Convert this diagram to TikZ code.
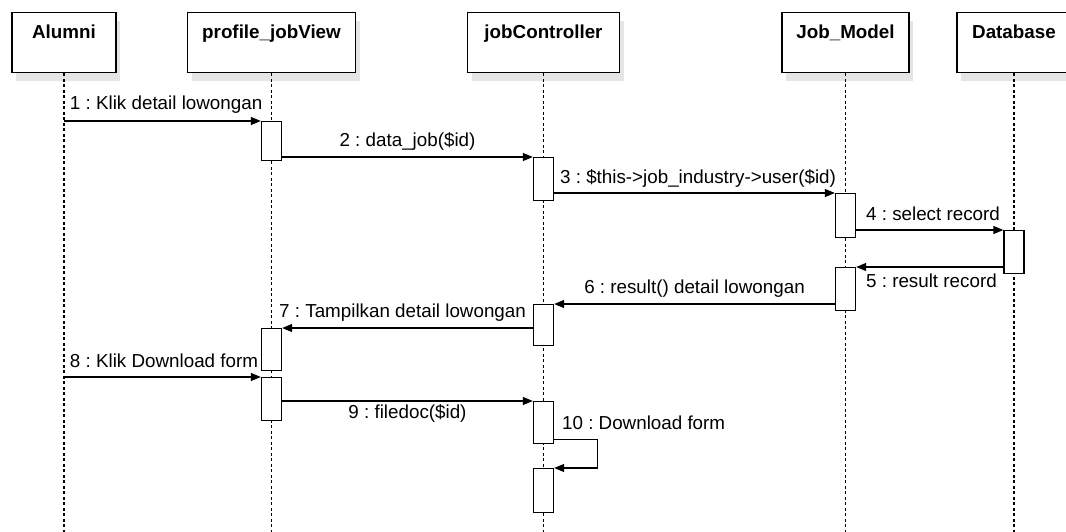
\documentclass[tikz,border=0pt]{standalone}
\usepackage{fontspec}
\setmainfont{Liberation Sans}
\usepackage{tikz}
\usetikzlibrary{arrows.meta, shadows}
\frenchspacing
\tikzset{
  headbox/.style={rectangle, draw, fill=white, line width=1.3pt, anchor=north, inner sep=0pt, text height=26pt, text depth=34pt, font={\fontsize{18.8}{22}\selectfont\bfseries}, drop shadow={shadow xshift=4pt, shadow yshift=-8pt, fill=black!20}},
  actbox/.style={rectangle, draw, fill=white, line width=1.3pt, anchor=north, inner sep=0pt, minimum width=20pt},
  lifeline/.style={line width=1.7pt, dash pattern=on 3pt off 2.5pt},
  msg/.style={-{Triangle[length=10pt, width=8pt]}, line width=1.3pt}
}

\begin{document}
\begin{tikzpicture}[x=1pt, y=-1pt, every node/.style={font=\fontsize{18.8}{22}\selectfont}]
  \useasboundingbox (0,0) rectangle (1066,532);
  % Objects
  \node[headbox, minimum width=104pt] (alumni) at (64,12) {Alumni};
  \node[headbox, minimum width=168pt] (view) at (271.5,12) {profile\_jobView};
  \node[headbox, minimum width=152pt] (ctrl) at (543.5,12) {jobController};
  \node[headbox, minimum width=127pt] (model) at (845.5,12) {Job\_Model};
  \node[headbox, minimum width=114pt] (db) at (1014,12) {Database};

  % Lifelines
  \foreach \obj in {alumni, view, ctrl, model, db}
    \draw[lifeline] (\obj.south) -- ++(0,460);

  % Activations
  \node[actbox, minimum height=39pt] (a1) at (271.5,121) {};
  \node[actbox, minimum height=43pt] (a2) at (543.5,157) {};
  \node[actbox, minimum height=44pt] (a3) at (845.5,193) {};
  \node[actbox, minimum height=43pt] (a4) at (1014,230) {};
  \node[actbox, minimum height=43pt] (a5) at (845.5,267) {};
  \node[actbox, minimum height=41pt] (a6) at (543.5,304) {};
  \node[actbox, minimum height=42pt] (a7) at (271.5,328) {};
  \node[actbox, minimum height=43pt] (a8) at (271.5,377) {};
  \node[actbox, minimum height=42pt] (a9) at (543.5,401) {};
  \node[actbox, minimum height=44pt] (a10) at (543.5,468) {};

  % Messages
  \draw[msg] (a1.north west -| alumni) -- (a1.north west)
    node[pos=0, anchor=base west, xshift=2pt, yshift=11pt] {1 : Klik detail lowongan};
  \draw[msg] (a1.east |- a2.north) -- (a2.north west)
    node[midway, anchor=base, yshift=10pt] {2 : data\_job(\$id)};
  \draw[msg] (a2.east |- a3.north) -- (a3.north west)
    node[pos=0, anchor=base west, xshift=2pt, yshift=10pt] {3 : \$this->job\_industry->user(\$id)};
  \draw[msg] (a3.east |- a4.north) -- (a4.north west)
    node[pos=0, anchor=base west, xshift=6pt, yshift=10pt] {4 : select record};
  \draw[msg] (a4.west |- a5.north) -- (a5.north east)
    node[pos=1, anchor=base west, xshift=6pt, yshift=-20pt] {5 : result record};
  \draw[msg] (a5.west |- a6.north) -- (a6.north east)
    node[midway, anchor=base, yshift=11pt] {6 : result() detail lowongan};
  \draw[msg] (a6.west |- a7.north) -- (a7.north east)
    node[pos=0, anchor=base east, xshift=-3pt, yshift=11pt] {7 : Tampilkan detail lowongan};
  \draw[msg] (a8.north west -| alumni) -- (a8.north west)
    node[pos=0, anchor=base west, xshift=2pt, yshift=10pt] {8 : Klik Download form};
  \draw[msg] (a8.east |- a9.north) -- (a9.north west)
    node[midway, anchor=base, yshift=-17pt] {9 : filedoc(\$id)};
  \draw[msg] ([yshift=5pt]a9.south east)
    node[anchor=base west, xshift=4pt, yshift=10pt] {10 : Download form}
    -- ++(43,0) |- (a10.north east);
\end{tikzpicture}
\end{document}
